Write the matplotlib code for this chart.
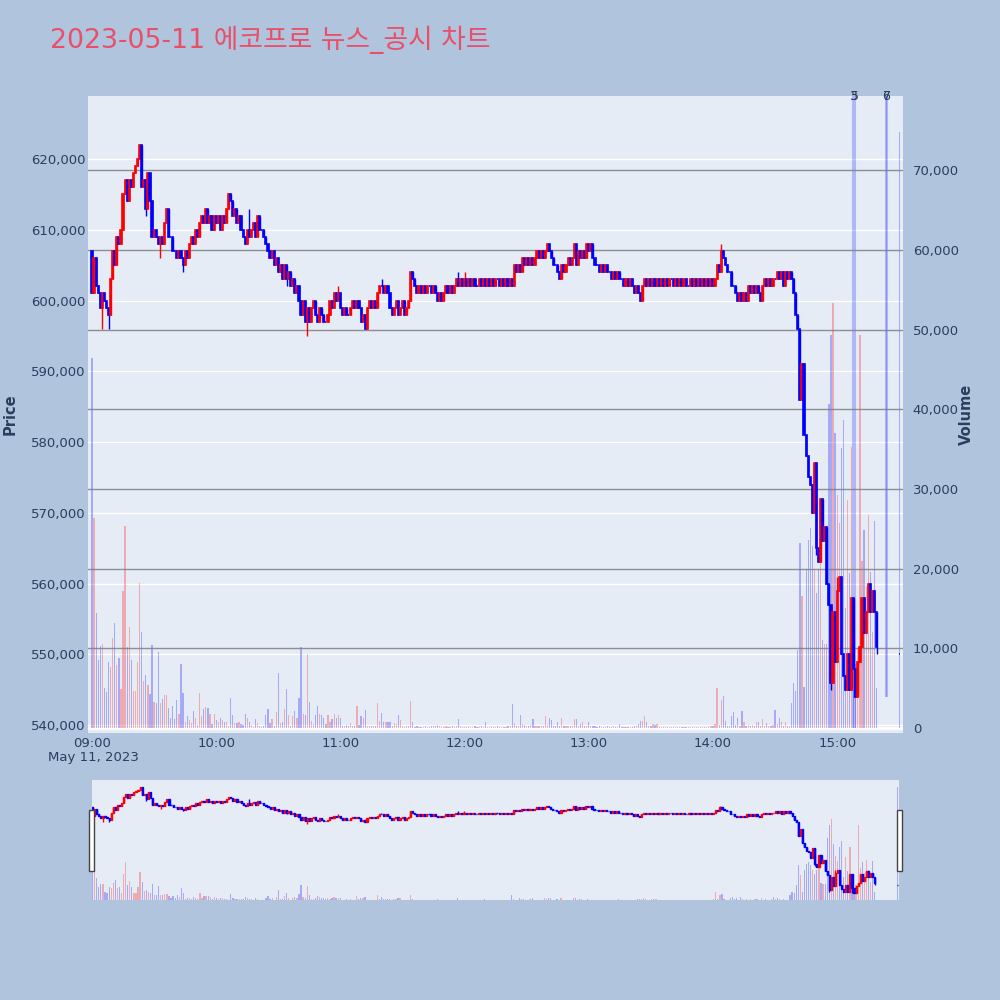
import numpy as np
import pandas as pd
import matplotlib
matplotlib.use("Agg")
import matplotlib.pyplot as plt
import matplotlib.dates as mdates
from matplotlib.patches import Rectangle
from matplotlib.lines import Line2D
from matplotlib.transforms import blended_transform_factory
from matplotlib.ticker import FuncFormatter

TITLE = "2023-05-11 에코프로 뉴스_공시 차트"
DAY = "2023-05-11"

# 1-minute closes from 09:00 to 15:19, in thousand won
first_open = 607
closes = [
    601, 606, 602, 601, 599, 601, 600, 599, 598, 603,
    607, 605, 609, 608, 610, 615, 617, 614, 617, 616,
    618, 619, 620, 622, 616, 617, 613, 618, 614, 609,
    610, 609, 608, 609, 608, 611, 613, 609, 609, 607,
    607, 606, 607, 606, 605, 607, 606, 608, 609, 608,
    610, 609, 611, 612, 611, 613, 611, 612, 610, 612,
    611, 612, 610, 612, 611, 613, 615, 614, 612, 613,
    611, 612, 610, 609, 608, 610, 609, 610, 611, 609,
    612, 610, 610, 609, 608, 607, 606, 607, 605, 606,
    604, 605, 603, 605, 603, 604, 602, 603, 601, 602,
    600, 598, 600, 597, 599, 597, 599, 600, 598, 597,
    599, 598, 597, 597, 598, 600, 599, 601, 600, 601,
    599, 598, 599, 598, 598, 599, 600, 599, 600, 599,
    597, 598, 596, 599, 600, 599, 600, 599, 601, 602,
    602, 601, 602, 601, 599, 598, 599, 600, 598, 599,
    600, 598, 599, 600, 604, 603, 602, 601, 602, 601,
    602, 601, 602, 602, 601, 602, 601, 600, 601, 600,
    601, 602, 601, 602, 601, 602, 603, 602, 603, 602,
    603, 602, 603, 602, 603, 602, 602, 603, 602, 603,
    602, 603, 602, 603, 602, 603, 603, 602, 603, 602,
    603, 602, 603, 602, 605, 604, 605, 604, 606, 605,
    606, 605, 606, 605, 606, 607, 606, 607, 606, 607,
    608, 607, 606, 605, 605, 604, 603, 605, 604, 605,
    606, 605, 606, 608, 605, 607, 606, 607, 606, 608,
    607, 608, 606, 605, 605, 604, 605, 604, 605, 604,
    604, 603, 604, 603, 604, 603, 603, 602, 603, 602,
    603, 602, 601, 602, 601, 600, 602, 603, 602, 603,
    602, 603, 602, 603, 602, 603, 602, 603, 602, 603,
    603, 602, 603, 602, 603, 602, 603, 602, 602, 603,
    602, 603, 602, 603, 602, 603, 602, 603, 602, 603,
    602, 603, 605, 604, 607, 606, 605, 604, 604, 602,
    602, 601, 600, 601, 600, 601, 600, 602, 601, 602,
    601, 602, 601, 600, 602, 603, 602, 603, 602, 603,
    603, 604, 603, 604, 602, 604, 603, 604, 603, 601,
    598, 596, 586, 591, 581, 578, 575, 574, 570, 577,
    565, 563, 572, 566, 568, 560, 557, 546, 556, 549,
    559, 561, 550, 547, 545, 550, 545, 558, 548, 544,
    549, 551, 558, 553, 556, 560, 556, 559, 556, 551,
]

# extra wick extremes: (minute index, price)
wick_lows = [(5, 596), (8, 596), (26, 612), (33, 606), (44, 604), (94, 602),
             (104, 595), (132, 596), (226, 603), (265, 600), (350, 564),
             (357, 545), (368, 544), (379, 550)]
wick_highs = [(23, 622), (66, 615), (76, 613), (119, 602), (140, 603),
              (154, 604), (177, 604), (180, 604), (304, 608), (360, 561)]

# 1-minute volume, thousand shares
volumes = [
    46.4, 26.3, 14.4, 8.5, 10.3, 10.5, 5.0, 4.5, 8.3, 7.7,
    11.3, 13.2, 7.9, 8.8, 4.9, 17.2, 25.3, 10.2, 12.7, 8.5,
    4.6, 4.6, 8.3, 18.2, 12.0, 5.9, 6.6, 5.4, 4.3, 10.4,
    3.3, 3.1, 9.5, 3.1, 3.6, 4.2, 4.2, 2.5, 1.3, 2.7,
    1.1, 3.5, 1.8, 8.0, 4.4, 0.7, 1.5, 1.0, 0.6, 2.1,
    1.2, 0.4, 4.4, 1.5, 2.4, 2.6, 2.5, 1.7, 0.5, 1.8,
    1.0, 0.8, 1.3, 1.0, 0.7, 0.7, 0.3, 3.8, 1.6, 0.6,
    0.6, 0.8, 0.5, 0.4, 1.8, 1.2, 0.8, 0.4, 0.1, 1.1,
    0.6, 0.2, 0.1, 0.3, 1.6, 2.4, 0.6, 1.1, 0.3, 2.0,
    6.9, 0.6, 0.8, 2.4, 4.9, 1.6, 0.3, 1.5, 2.1, 1.2,
    3.8, 10.2, 1.8, 1.6, 9.3, 3.2, 0.9, 0.5, 1.6, 2.8,
    1.8, 1.6, 1.2, 0.5, 1.6, 0.7, 1.1, 1.8, 1.2, 1.6,
    1.3, 0.3, 0.3, 0.4, 0.3, 0.6, 0.2, 0.3, 2.8, 0.4,
    1.5, 1.2, 2.3, 0.3, 0.2, 0.3, 0.2, 0.3, 3.1, 0.9,
    1.9, 0.8, 0.7, 0.8, 0.8, 0.2, 0.6, 0.5, 1.6, 1.0,
    0.2, 0.1, 0.2, 0.3, 3.4, 0.7, 0.1, 0.2, 0.1, 0.1,
    0.1, 0.2, 0.1, 0.1, 0.2, 0.3, 0.3, 0.4, 0.3, 0.1,
    0.1, 0.2, 0.1, 0.1, 0.2, 0.1, 0.2, 1.1, 0.2, 0.1,
    0.1, 0.1, 0.2, 0.1, 0.1, 0.2, 0.1, 0.1, 0.2, 0.1,
    0.7, 0.1, 0.1, 0.2, 0.1, 0.1, 0.2, 0.1, 0.1, 0.1,
    0.1, 0.2, 0.3, 3.0, 0.6, 0.3, 0.2, 1.6, 0.5, 0.4,
    0.3, 0.2, 0.4, 1.1, 0.2, 0.3, 0.2, 0.2, 0.3, 1.5,
    0.4, 1.2, 1.0, 0.3, 0.2, 0.7, 0.2, 1.3, 0.3, 0.2,
    0.2, 0.3, 0.2, 1.1, 1.1, 0.3, 0.5, 0.8, 0.3, 0.2,
    0.7, 0.3, 0.2, 0.2, 0.1, 0.2, 0.1, 0.1, 0.1, 0.2,
    0.1, 0.1, 0.2, 0.1, 0.1, 0.5, 0.1, 0.1, 0.1, 0.1,
    0.1, 0.1, 0.2, 0.3, 0.5, 0.9, 0.9, 1.5, 0.8, 0.2,
    0.2, 0.5, 0.4, 0.5, 0.1, 0.1, 0.1, 0.1, 0.1, 0.1,
    0.1, 0.1, 0.1, 0.1, 0.1, 0.1, 0.1, 0.1, 0.1, 0.1,
    0.1, 0.1, 0.1, 0.1, 0.1, 0.1, 0.1, 0.1, 0.1, 0.3,
    0.2, 0.5, 5.0, 0.4, 3.5, 4.0, 0.9, 0.3, 0.2, 1.5,
    2.0, 0.4, 1.3, 0.3, 2.1, 0.7, 0.3, 0.4, 0.2, 0.4,
    0.3, 0.7, 0.8, 0.3, 1.1, 0.3, 0.6, 0.3, 0.2, 0.4,
    2.3, 0.5, 1.3, 0.7, 0.3, 0.8, 0.3, 0.3, 3.1, 5.6,
    4.6, 9.8, 23.2, 16.5, 5.2, 20.0, 23.6, 25.1, 22.8, 20.0,
    16.9, 20.0, 24.0, 11.0, 10.6, 10.6, 40.7, 49.3, 53.3, 37.0,
    29.2, 25.7, 35.1, 38.7, 15.0, 28.6, 19.4, 35.3, 12.0, 8.0,
    10.0, 49.3, 20.9, 24.9, 17.7, 26.7, 19.6, 12.0, 26.0, 5.0,
]

# closing auction
auction_time = "15:30"
auction_price = 550
auction_volume = 74.8

# news / disclosure markers
news_times = ["15:07:30", "15:08:30", "15:23:30", "15:24:10"]
news_labels = ["3", "5", "6", "7"]
news_base = [0, 0, 3.9, 3.9]

price_ticks = list(range(540, 621, 10))
volume_ticks = list(range(0, 71, 10))

RED = "#FF0000"
BLUE = "#0000FF"
PAPER = "#B0C4DE"
PLOT_BG = "#E5ECF6"
FONT_C = "#2A3F5F"

# ---- build table ----
t0 = pd.Timestamp(f"{DAY} 09:00")
times = list(pd.date_range(t0, periods=len(closes), freq="min"))
times.append(pd.Timestamp(f"{DAY} {auction_time}"))
df = pd.DataFrame({"time": times})
df["close"] = closes + [auction_price]
df["open"] = [first_open] + closes[:-1] + [auction_price]
df["high"] = df[["open", "close"]].max(axis=1)
df["low"] = df[["open", "close"]].min(axis=1)
for i, p in wick_lows:
    df.loc[i, "low"] = min(df.loc[i, "low"], p)
for i, p in wick_highs:
    df.loc[i, "high"] = max(df.loc[i, "high"], p)
df["volume"] = volumes + [auction_volume]
df["x"] = mdates.date2num(df["time"])
df["color"] = np.where(df["close"] > df["open"], RED, BLUE)

MIN = 1 / 1440.0


def draw_candles(ax, lw=1.2):
    ax.vlines(df["x"], df["low"], df["high"], colors=df["color"], lw=1.0, zorder=3)
    ax.bar(df["x"], df["close"] - df["open"], bottom=df["open"], width=0.55 * MIN,
           color=df["color"], edgecolor=df["color"], linewidth=lw, zorder=4)


def draw_volume(ax):
    ax.bar(df["x"], df["volume"], width=0.6 * MIN, color=df["color"],
           alpha=0.28, linewidth=0, zorder=2)


def clean(ax):
    for s in ax.spines.values():
        s.set_visible(False)
    ax.tick_params(length=0, colors=FONT_C, labelsize=9.5)


fig = plt.figure(figsize=(10, 10), dpi=100, facecolor=PAPER)

rect = [0.088, 0.267, 0.815, 0.637]
axv = fig.add_axes(rect, facecolor=PLOT_BG)
ax = fig.add_axes(rect, sharex=axv)
ax.patch.set_visible(False)

xmin = df["x"].iloc[0] - 1.93 * MIN
xmax = df["x"].iloc[0] + 391.8 * MIN
axv.set_xlim(xmin, xmax)
ax.set_ylim(538.9, 628.9)
axv.set_ylim(-0.63, 79.3)

# price grid (white) under the bars
gtr = blended_transform_factory(axv.transAxes, ax.transData)
for p in price_ticks:
    axv.add_line(Line2D([0, 1], [p, p], transform=gtr, color="white", lw=1, zorder=0.5))
axv.axhline(0, color="white", lw=2, zorder=1)

draw_volume(axv)
for v in volume_ticks[1:]:
    axv.axhline(v, color="#7F7F7F", lw=1, alpha=0.85, zorder=5)

# news markers
for t, lab, b in zip(news_times, news_labels, news_base):
    xn = mdates.date2num(pd.Timestamp(f"{DAY} {t}"))
    axv.vlines(xn, b, 200, colors=BLUE, lw=1.5, alpha=0.22, zorder=2)
    ax.text(xn, 1.0, lab, transform=blended_transform_factory(ax.transData, ax.transAxes),
            ha="center", va="center", fontsize=9, color=FONT_C, zorder=6)

draw_candles(ax)

clean(ax)
clean(axv)
axv.yaxis.tick_right()
axv.set_yticks(volume_ticks)
axv.yaxis.set_major_formatter(FuncFormatter(lambda v, _: f"{int(round(v * 1000)):,}"))
axv.tick_params(axis="y", pad=7)
axv.tick_params(axis="x", labelbottom=False)
ax.set_yticks(price_ticks)
ax.yaxis.set_major_formatter(FuncFormatter(lambda v, _: f"{int(round(v * 1000)):,}"))
ax.tick_params(axis="y", pad=2)
ax.xaxis.set_major_locator(mdates.HourLocator())
ax.xaxis.set_major_formatter(mdates.DateFormatter("%H:%M"))
ax.tick_params(axis="x", pad=3)

fig.text(0.093, 1 - 0.758, "May 11, 2023", ha="center", va="center", fontsize=9.5, color=FONT_C)
fig.text(0.010, 0.5855, "Price", rotation=90, ha="center", va="center",
         fontsize=10.5, fontweight="bold", color=FONT_C)
fig.text(0.966, 0.5855, "Volume", rotation=90, ha="center", va="center",
         fontsize=10.5, fontweight="bold", color=FONT_C)
fig.text(0.05, 1 - 0.040, TITLE, ha="left", va="center", fontsize=19.3,
         color="#E8506A", family=["DejaVu Sans", "Noto Sans CJK KR"])

# ---- range slider ----
srect = [0.092, 0.100, 0.807, 0.120]
sv = fig.add_axes(srect, facecolor=PLOT_BG)
sp = fig.add_axes(srect, sharex=sv)
sp.patch.set_visible(False)
sv.set_xlim(df["x"].iloc[0] - 0.3 * MIN, df["x"].iloc[0] + 390.8 * MIN)
sv.set_ylim(0, 79.3)
sp.set_ylim(538.8, 627.2)
draw_volume(sv)
draw_candles(sp, lw=1.0)
for a in (sv, sp):
    for s in a.spines.values():
        s.set_visible(False)
    a.set_xticks([])
    a.set_yticks([])

for hx in (0.0893, 0.8973):
    fig.add_artist(Rectangle((hx, 1 - 0.8705), 0.0043, 0.0605, transform=fig.transFigure,
                             facecolor="white", edgecolor="#444444", lw=1, zorder=10))

fig.savefig("out.png", dpi=100, facecolor=PAPER)
